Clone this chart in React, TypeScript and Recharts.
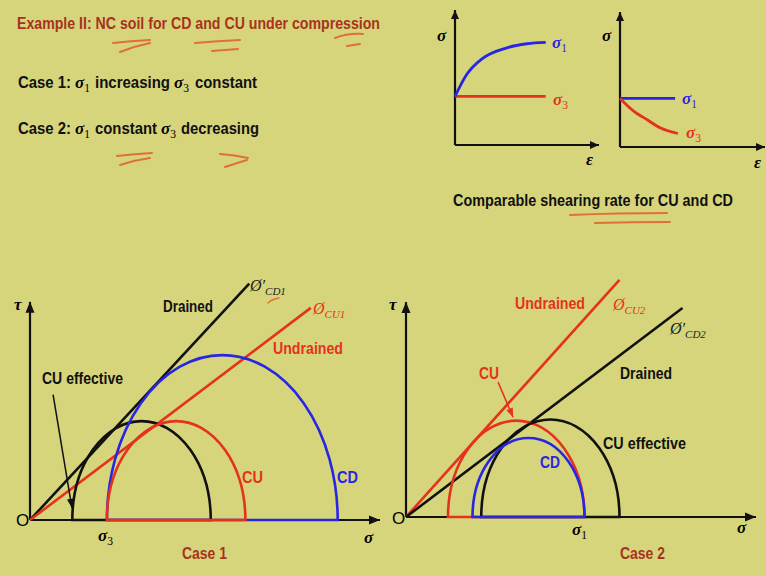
import React from 'react';
import { LineChart, Line, XAxis, YAxis } from 'recharts';

const BG = '#D7D57B';
const RED = '#E4321E';
const BLUE = '#2626E4';
const BLACK = '#111111';
const BRICK = '#A8321E';
const INK = '#E2652F';
const SANS = "'Liberation Sans Narrow', 'Arial Narrow', 'Liberation Sans', Arial, sans-serif";
const SERIF = "'Liberation Serif', 'DejaVu Serif', serif";

// top-left strain plot: σ1 rises, σ3 constant
const epsA = [0, 0.8, 1.9, 3.6, 5.0, 6.3];
const sig1A = [3.6, 5.2, 6.4, 7.2, 7.5, 7.6];
const sig3A = [3.6, 3.6, 3.6, 3.6, 3.6, 3.6];

// top-right strain plot: σ1 constant, σ3 falls
const epsB1 = [0, 3.8];
const sig1B = [3.6, 3.6];
const epsB3 = [0, 0.9, 1.9, 2.8, 4.0];
const sig3B = [3.6, 2.7, 2.0, 1.4, 1.0];

// Case 1 Mohr circles: CU effective, CD, CU
const case1Sigma3 = [11, 20, 20];
const case1Sigma1 = [47, 80, 56];
const case1Colors = [BLACK, BLUE, RED];

// Case 1 envelopes (σ, τ end points)
const case1DrainedS = [0, 57];
const case1DrainedT = [0, 43];
const case1UndrainedS = [0, 73];
const case1UndrainedT = [0, 38.6];
const case1PointerS = [6, 10.9];
const case1PointerT = [22.8, 2.2];

// Case 2 Mohr circles: CU, CU effective, CD
const case2Sigma3 = [12, 21.5, 19];
const case2Sigma1 = [51, 61, 51];
const case2Colors = [RED, BLACK, BLUE];

const case2UndrainedS = [0, 61];
const case2UndrainedT = [0, 48];
const case2DrainedS = [0, 79];
const case2DrainedT = [0, 42.3];
const case2PointerS = [26.3, 30.6];
const case2PointerT = [27.3, 20.2];

const pts = (xs: number[], ys: number[]) => xs.map((x, i) => ({ x, y: ys[i] }));
const mohr = (s3: number, s1: number) => [
  { x: s3, y: 0 },
  { x: (s3 + s1) / 2, y: (s1 - s3) / 2 },
  { x: s1, y: 0 },
];

const arrowDot = (color: string, len = 11, half = 4.5) => (p: any) => {
  const { cx, cy, index, points } = p;
  if (!points || index !== points.length - 1 || index < 1) return <g key={`a${index}`} />;
  const prev = points[index - 1];
  const ang = Math.atan2(cy - prev.y, cx - prev.x);
  const bx = cx - len * Math.cos(ang);
  const by = cy - len * Math.sin(ang);
  const nx = -Math.sin(ang) * half;
  const ny = Math.cos(ang) * half;
  return (
    <path
      key={`a${index}`}
      d={`M${cx},${cy} L${bx + nx},${by + ny} L${bx - nx},${by - ny} Z`}
      fill={color}
      stroke="none"
    />
  );
};

// half Mohr circle from (σ3,0) over the top (c,r) to (σ1,0), diameter closed along the axis
const arcDot = (color: string, w = 2.6) => (p: any) => {
  const { index, points } = p;
  if (!points || index !== 0 || points.length < 3) return <g key={`c${index}`} />;
  const [a, top, b] = points;
  const rx = (b.x - a.x) / 2;
  const ry = a.y - top.y;
  return (
    <path
      key={`c${index}`}
      d={`M${a.x},${a.y} A${rx},${ry} 0 0 1 ${b.x},${b.y} Z`}
      fill="none"
      stroke={color}
      strokeWidth={w}
    />
  );
};

function axisLines(xMax: number, yMax: number, small = false) {
  const dot = small ? arrowDot(BLACK, 9, 4) : arrowDot(BLACK);
  return [
    <Line key="ax" data={pts([0, xMax], [0, 0])} dataKey="y" stroke={BLACK} strokeWidth={2.2} dot={dot} activeDot={false} isAnimationActive={false} />,
    <Line key="ay" data={pts([0, 0], [0, yMax])} dataKey="y" stroke={BLACK} strokeWidth={2.2} dot={dot} activeDot={false} isAnimationActive={false} />,
  ];
}

function circleLines(s3: number[], s1: number[], colors: string[]) {
  return s3.map((v, i) => (
    <Line
      key={`m${i}`}
      data={mohr(v, s1[i])}
      dataKey="y"
      stroke="none"
      dot={arcDot(colors[i])}
      activeDot={false}
      isAnimationActive={false}
    />
  ));
}

const sub = (sym: string, s: string, size: number, color?: string) => [
  <tspan key="s" fontFamily={SERIF} fontStyle="italic" fontWeight="bold" fill={color}>{sym}</tspan>,
  <tspan key="b" fontFamily={SERIF} fontSize={size * 0.68} dy={4} fill={color}>{s}</tspan>,
];

export default function App() {
  const T = (props: any) => (
    <text fontFamily={SANS} fontWeight="bold" fontSize={16} lengthAdjust="spacingAndGlyphs" {...props} />
  );
  return (
    <div style={{ position: 'fixed', left: 0, top: 0, width: 766, height: 576, background: BG, overflow: 'hidden' }}>
      {/* strain plot A */}
      <div style={{ position: 'absolute', left: 430, top: 0 }}>
        <LineChart width={180} height={170} margin={{ top: 10, right: 11, left: 25, bottom: 25 }}>
          <XAxis type="number" dataKey="x" domain={[0, 10]} hide />
          <YAxis type="number" domain={[0, 10]} hide />
          {axisLines(10, 10, true)}
          <Line data={pts(epsA, sig3A)} dataKey="y" stroke={RED} strokeWidth={2.8} dot={false} activeDot={false} isAnimationActive={false} />
          <Line data={pts(epsA, sig1A)} dataKey="y" type="monotone" stroke={BLUE} strokeWidth={2.8} dot={false} activeDot={false} isAnimationActive={false} />
        </LineChart>
      </div>
      {/* strain plot B */}
      <div style={{ position: 'absolute', left: 595, top: 0 }}>
        <LineChart width={171} height={170} margin={{ top: 12, right: 1, left: 25, bottom: 23 }}>
          <XAxis type="number" dataKey="x" domain={[0, 10]} hide />
          <YAxis type="number" domain={[0, 10]} hide />
          {axisLines(10, 10, true)}
          <Line data={pts(epsB1, sig1B)} dataKey="y" stroke={BLUE} strokeWidth={2.8} dot={false} activeDot={false} isAnimationActive={false} />
          <Line data={pts(epsB3, sig3B)} dataKey="y" type="monotone" stroke={RED} strokeWidth={2.8} dot={false} activeDot={false} isAnimationActive={false} />
        </LineChart>
      </div>
      {/* Case 1 */}
      <div style={{ position: 'absolute', left: 0, top: 270 }}>
        <LineChart width={383} height={271} margin={{ top: 0, right: 3, left: 30, bottom: 21 }}>
          <XAxis type="number" dataKey="x" domain={[0, 91]} hide />
          <YAxis type="number" domain={[0, 45.5]} hide />
          {axisLines(91, 39.7)}
          {circleLines(case1Sigma3, case1Sigma1, case1Colors)}
          <Line data={pts(case1DrainedS, case1DrainedT)} dataKey="y" stroke={BLACK} strokeWidth={2.6} dot={false} activeDot={false} isAnimationActive={false} />
          <Line data={pts(case1UndrainedS, case1UndrainedT)} dataKey="y" stroke={RED} strokeWidth={2.6} dot={false} activeDot={false} isAnimationActive={false} />
          <Line data={pts(case1PointerS, case1PointerT)} dataKey="y" stroke={BLACK} strokeWidth={1.5} dot={arrowDot(BLACK, 9, 3.5)} activeDot={false} isAnimationActive={false} />
        </LineChart>
      </div>
      {/* Case 2 */}
      <div style={{ position: 'absolute', left: 383, top: 270 }}>
        <LineChart width={383} height={268} margin={{ top: 0, right: 10, left: 23, bottom: 21 }}>
          <XAxis type="number" dataKey="x" domain={[0, 100]} hide />
          <YAxis type="number" domain={[0, 50]} hide />
          {axisLines(100, 43.5)}
          {circleLines(case2Sigma3, case2Sigma1, case2Colors)}
          <Line data={pts(case2UndrainedS, case2UndrainedT)} dataKey="y" stroke={RED} strokeWidth={2.6} dot={false} activeDot={false} isAnimationActive={false} />
          <Line data={pts(case2DrainedS, case2DrainedT)} dataKey="y" stroke={BLACK} strokeWidth={2.6} dot={false} activeDot={false} isAnimationActive={false} />
          <Line data={pts(case2PointerS, case2PointerT)} dataKey="y" stroke={RED} strokeWidth={1.5} dot={arrowDot(RED, 9, 3.5)} activeDot={false} isAnimationActive={false} />
        </LineChart>
      </div>

      {/* text and pen annotations */}
      <svg width={766} height={576} style={{ position: 'absolute', left: 0, top: 0, pointerEvents: 'none' }}>
        <T x={17} y={29} textLength={363} fill={BRICK}>Example II: NC soil for CD and CU under compression</T>

        <T x={18} y={88} textLength={53} fill={BLACK}>Case 1:</T>
        <text x={75} y={88} fontSize={17}>{sub('σ', '1', 17)}</text>
        <T x={95} y={88} textLength={75} fill={BLACK}>increasing</T>
        <text x={174} y={88} fontSize={17}>{sub('σ', '3', 17)}</text>
        <T x={195} y={88} textLength={62} fill={BLACK}>constant</T>

        <T x={18} y={134} textLength={53} fill={BLACK}>Case 2:</T>
        <text x={75} y={134} fontSize={17}>{sub('σ', '1', 17)}</text>
        <T x={95} y={134} textLength={62} fill={BLACK}>constant</T>
        <text x={161} y={134} fontSize={17}>{sub('σ', '3', 17)}</text>
        <T x={181} y={134} textLength={78} fill={BLACK}>decreasing</T>

        <T x={453} y={206} textLength={280} fill={BLACK}>Comparable shearing rate for CU and CD</T>

        {/* strain plot labels */}
        <text x={437} y={41} fontFamily={SERIF} fontStyle="italic" fontWeight="bold" fontSize={17}>σ</text>
        <text x={552} y={48} fontSize={17}>{sub('σ', '1', 17, BLUE)}</text>
        <text x={553} y={105} fontSize={17}>{sub('σ', '3', 17, RED)}</text>
        <text x={586} y={165} fontFamily={SERIF} fontStyle="italic" fontWeight="bold" fontSize={17}>ε</text>
        <text x={602} y={41} fontFamily={SERIF} fontStyle="italic" fontWeight="bold" fontSize={17}>σ</text>
        <text x={682} y={104} fontSize={17}>{sub('σ', '1', 17, BLUE)}</text>
        <text x={686} y={138} fontSize={17}>{sub('σ', '3', 17, RED)}</text>
        <text x={754} y={168} fontFamily={SERIF} fontStyle="italic" fontWeight="bold" fontSize={17}>ε</text>

        {/* Case 1 labels */}
        <text x={14} y={310} fontFamily={SERIF} fontStyle="italic" fontWeight="bold" fontSize={17}>τ</text>
        <text x={16} y={526} fontFamily={SANS} fontSize={17}>O</text>
        <text x={98} y={541} fontSize={17}>{sub('σ', '3', 17)}</text>
        <text x={364} y={543} fontFamily={SERIF} fontStyle="italic" fontWeight="bold" fontSize={17}>σ</text>
        <T x={182} y={559} textLength={45} fill={BRICK}>Case 1</T>
        <T x={163} y={312} textLength={50} fill={BLACK}>Drained</T>
        <text x={250} y={291} fontFamily={SERIF} fontStyle="italic" fontSize={16} fill="#222">
          Ø′<tspan dy={4} fontSize={11}>CD1</tspan>
        </text>
        <text x={313} y={314} fontFamily={SERIF} fontStyle="italic" fontSize={16} fill={RED}>
          Ø<tspan dy={4} fontSize={11}>CU1</tspan>
        </text>
        <T x={273} y={354} textLength={70} fill={RED}>Undrained</T>
        <T x={42} y={384} textLength={81} fill={BLACK}>CU effective</T>
        <T x={242} y={483} textLength={21} fill={RED}>CU</T>
        <T x={337} y={483} textLength={21} fill={BLUE}>CD</T>

        {/* Case 2 labels */}
        <text x={389} y={310} fontFamily={SERIF} fontStyle="italic" fontWeight="bold" fontSize={17}>τ</text>
        <text x={392} y={524} fontFamily={SANS} fontSize={17}>O</text>
        <text x={572} y={535} fontSize={17}>{sub('σ', '1', 17)}</text>
        <text x={737} y={533} fontFamily={SERIF} fontStyle="italic" fontWeight="bold" fontSize={17}>σ</text>
        <T x={620} y={559} textLength={45} fill={BRICK}>Case 2</T>
        <T x={515} y={309} textLength={70} fill={RED}>Undrained</T>
        <text x={613} y={310} fontFamily={SERIF} fontStyle="italic" fontSize={16} fill={RED}>
          Ø<tspan dy={4} fontSize={11}>CU2</tspan>
        </text>
        <text x={670} y={334} fontFamily={SERIF} fontStyle="italic" fontSize={16} fill="#222">
          Ø′<tspan dy={4} fontSize={11}>CD2</tspan>
        </text>
        <T x={620} y={379} textLength={52} fill={BLACK}>Drained</T>
        <T x={479} y={379} textLength={20} fill={RED}>CU</T>
        <T x={603} y={449} textLength={83} fill={BLACK}>CU effective</T>
        <T x={540} y={468} textLength={20} fill={BLUE}>CD</T>

        {/* pen strokes */}
        <g stroke={INK} strokeWidth={2} strokeLinecap="round" fill="none" opacity={0.9}>
          <path d="M113,43 Q130,41 150,40" />
          <path d="M120,52 Q135,46 150,43" />
          <path d="M195,43 Q218,41 240,40" />
          <path d="M212,51 Q225,50 238,49" />
          <path d="M335,38 Q348,33 363,34" />
          <path d="M347,46 L360,44" />
          <path d="M117,156 Q135,154 152,153" />
          <path d="M120,165 Q135,160 150,158" />
          <path d="M220,154 Q235,155 248,158" />
          <path d="M225,167 Q237,163 247,160" />
          <path d="M570,215 Q620,213 667,213" />
          <path d="M595,223 Q632,222 670,222" />
          <path d="M268,303 Q272,299 279,298" strokeWidth={1.3} />
        </g>
      </svg>
    </div>
  );
}
